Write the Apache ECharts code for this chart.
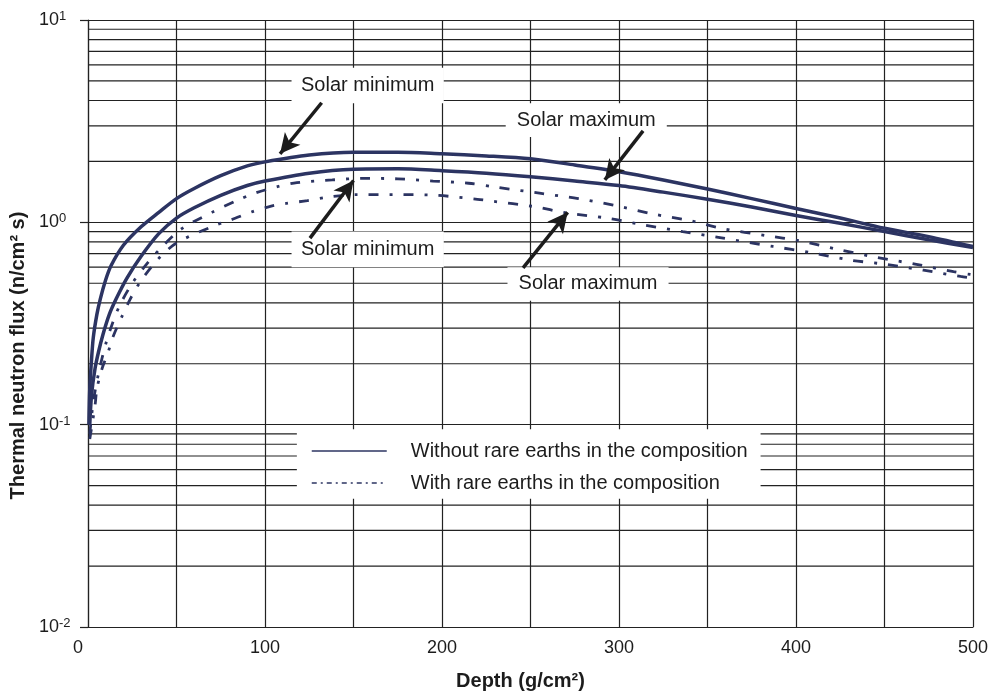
<!DOCTYPE html>
<html><head><meta charset="utf-8">
<script src="https://cdn.jsdelivr.net/npm/echarts@6/dist/echarts.min.js"></script>
<style>html,body{margin:0;padding:0;background:#fff}#c{width:992px;height:696px}</style>
</head><body><div id="c"></div>
<script>
// ---- data ----
const depthA = [0.5, 1, 2, 3, 5, 7, 10, 13, 20, 30, 40, 50, 60, 75, 90, 100, 125, 150, 175, 200, 225, 250, 275, 300, 325, 350, 375, 400, 425, 450, 475, 500];
const fluxA  = [0.1, 0.15, 0.21, 0.27, 0.35, 0.42, 0.52, 0.61, 0.77, 0.95, 1.12, 1.31, 1.47, 1.7, 1.9, 1.99, 2.15, 2.22, 2.22, 2.18, 2.13, 2.06, 1.92, 1.78, 1.62, 1.46, 1.31, 1.17, 1.05, 0.935, 0.85, 0.76];

const depthB = [1, 2, 4, 6, 8.5, 12, 16, 22, 30, 40, 50, 60, 75, 90, 100, 125, 150, 175, 200, 225, 250, 275, 300, 325, 350, 375, 400, 425, 450, 475, 500];
const fluxB  = [0.1, 0.14, 0.19, 0.23, 0.28, 0.35, 0.42, 0.53, 0.68, 0.88, 1.05, 1.18, 1.36, 1.52, 1.6, 1.75, 1.83, 1.84, 1.8, 1.75, 1.68, 1.6, 1.52, 1.41, 1.3, 1.19, 1.08, 0.99, 0.9, 0.82, 0.75];

const depthC = [1, 3, 6, 10, 14, 18, 25, 33, 42, 53, 70, 84, 95, 107, 118, 138, 155, 175, 195, 215, 231, 256, 277, 298, 319, 340, 359, 383, 402, 425, 446, 468, 489, 500];
const fluxC  = [0.09, 0.13, 0.18, 0.25, 0.32, 0.39, 0.5, 0.62, 0.76, 0.93, 1.12, 1.28, 1.4, 1.5, 1.57, 1.62, 1.65, 1.64, 1.6, 1.56, 1.49, 1.39, 1.31, 1.21, 1.1, 1.02, 0.93, 0.86, 0.81, 0.73, 0.67, 0.62, 0.57, 0.55];

const depthD = [1, 4, 5, 8, 11.5, 14, 19, 24, 29, 39, 50, 71, 81, 93, 103, 112, 124, 135, 152, 178, 197, 220, 229, 251, 271, 293, 314, 336, 357, 387, 408, 431, 451, 472, 493, 500];
const fluxD  = [0.085, 0.125, 0.15, 0.19, 0.23, 0.27, 0.34, 0.42, 0.5, 0.65, 0.79, 0.96, 1.03, 1.13, 1.2, 1.24, 1.28, 1.33, 1.37, 1.37, 1.36, 1.3, 1.27, 1.2, 1.11, 1.05, 0.97, 0.9, 0.84, 0.76, 0.71, 0.65, 0.62, 0.58, 0.54, 0.53];

const seriesNames = ['Without rare earths in the composition', 'With rare earths in the composition'];
const xTickValues = [0, 100, 200, 300, 400, 500];
const xTickLabels = ['0', '100', '200', '300', '400', '500'];
const yTickValues = [0.01, 0.1, 1, 10];
const yTickExponents = ['-2', '-1', '0', '1'];
const minorGridValues = [0.02, 0.03, 0.04, 0.05, 0.06, 0.07, 0.08, 0.09,
                         0.2, 0.3, 0.4, 0.5, 0.6, 0.7, 0.8, 0.9,
                         2, 3, 4, 5, 6, 7, 8, 9];
const xAxisTitle = 'Depth (g/cm²)';
const yAxisTitle = 'Thermal neutron flux (n/cm² s)';

// annotation boxes (data coordinates): label text, depth range, flux range
const boxTexts  = ['Solar minimum', 'Solar maximum', 'Solar minimum', 'Solar maximum', ''];
const boxDepths = [[115, 201], [236, 327], [115, 201], [237, 328], [118, 380]];
const boxFluxes = [[3.88, 5.8], [2.64, 3.88], [0.6, 0.9], [0.41, 0.6], [0.043, 0.095]];
// arrows (data coordinates): from -> to
const arrowFrom = [[132, 3.9], [313.6, 2.83], [125.4, 0.835], [245.8, 0.595]];
const arrowTo   = [[108.5, 2.18], [292, 1.62], [150, 1.61], [271, 1.12]];

// ---- chart ----
const FONT = 'Liberation Sans, Arial, Helvetica, sans-serif';
const INK = '#1c1c1c';
const NAVY = '#2c3462';
const GRIDC = '#222222';
const zip = (xs, ys) => xs.map((x, i) => [x, ys[i]]);

const chart = echarts.init(document.getElementById('c'), null, {renderer: 'canvas'});
const option = {
  animation: false,
  backgroundColor: '#ffffff',
  textStyle: {fontFamily: FONT, color: INK},
  grid: {left: 88, right: 19, top: 20, bottom: 64},
  legend: {
    orient: 'vertical', left: 306, top: 436,
    itemWidth: 75, itemHeight: 14, itemGap: 12,
    selectedMode: false,
    textStyle: {fontFamily: FONT, fontSize: 20, color: INK, padding: [0, 0, 0, 19]},
    data: [
      {name: seriesNames[0], lineStyle: {width: 1.5}, itemStyle: {opacity: 0}},
      {name: seriesNames[1], lineStyle: {width: 1.5, type: [5, 4, 2, 4]}, itemStyle: {opacity: 0}}
    ]
  },
  xAxis: {
    type: 'value', min: 0, max: 500, interval: 50,
    axisLine: {show: true, lineStyle: {color: GRIDC, width: 1.2}},
    axisTick: {show: false},
    splitLine: {show: true, lineStyle: {color: GRIDC, width: 1.2}},
    axisLabel: {
      margin: 12, fontSize: 18, color: INK, fontFamily: FONT, alignMinLabel: 'right',
      formatter: v => {
        const i = xTickValues.indexOf(v);
        if (i < 0) return '';
        return i === 0 ? '{z|' + xTickLabels[i] + '}' : xTickLabels[i];
      },
      rich: {z: {fontSize: 18, color: INK, fontFamily: FONT, padding: [0, 5, 0, 0]}}
    },
    name: xAxisTitle, nameLocation: 'middle', nameGap: 44,
    nameTextStyle: {fontSize: 20, fontWeight: 'bold', color: INK, fontFamily: FONT, padding: [0, 20, 0, 0]}
  },
  yAxis: {
    type: 'log', logBase: 10, min: 0.01, max: 10,
    axisLine: {show: true, lineStyle: {color: GRIDC, width: 1.2}},
    axisTick: {show: true, length: 8, lineStyle: {color: GRIDC, width: 1.2}},
    splitLine: {show: true, lineStyle: {color: GRIDC, width: 1.2}},
    minorTick: {show: false}, minorSplitLine: {show: false},
    axisLabel: {
      align: 'left', margin: 49, color: INK, fontFamily: FONT,
      formatter: v => {
        let i = yTickValues.findIndex(t => Math.abs(Math.log10(t) - Math.log10(v)) < 1e-6);
        return i >= 0 ? '{b|10}{s|' + yTickExponents[i] + '}' : '';
      },
      rich: {
        b: {fontSize: 18, lineHeight: 20, verticalAlign: 'middle', fontFamily: FONT, color: INK},
        s: {fontSize: 13, lineHeight: 13, verticalAlign: 'top', fontFamily: FONT, color: INK}
      }
    },
    name: yAxisTitle, nameLocation: 'middle', nameGap: 60,
    nameTextStyle: {fontSize: 20, fontWeight: 'bold', color: INK, fontFamily: FONT, padding: [0, 64, 0, 0]}
  },
  series: [
    {
      type: 'custom', name: 'minorGrid', z: 1, silent: true, clip: false,
      data: minorGridValues.map(v => [0, v]), encode: {x: 0, y: 1},
      renderItem: (p, api) => {
        const v = api.value(1);
        const a = api.coord([0, v]);
        const b = api.coord([500, v]);
        return {type: 'line', shape: {x1: a[0], y1: a[1], x2: b[0], y2: b[1]},
                style: {stroke: GRIDC, lineWidth: 1.2}};
      }
    },
    {
      type: 'line', name: seriesNames[0], data: zip(depthA, fluxA), z: 3,
      symbol: 'none', smooth: 0.3, silent: true,
      lineStyle: {color: NAVY, width: 3.5}, itemStyle: {color: NAVY},
      markLine: {
        z: 4, silent: true, symbol: ['none', 'arrow'], symbolSize: [15, 20],
        label: {show: false}, emphasis: {disabled: true},
        lineStyle: {color: INK, width: 3.5, type: 'solid'},
        data: arrowFrom.map((f, i) => [{coord: f}, {coord: arrowTo[i]}])
      }
    },
    {
      type: 'line', name: seriesNames[0], data: zip(depthB, fluxB), z: 3,
      symbol: 'none', smooth: 0.3, silent: true,
      lineStyle: {color: NAVY, width: 3.5}, itemStyle: {color: NAVY}
    },
    {
      type: 'line', name: seriesNames[1], data: zip(depthC, fluxC), z: 3,
      symbol: 'none', smooth: 0.3, silent: true,
      lineStyle: {color: NAVY, width: 2.8, type: [10, 11, 3, 11]}, itemStyle: {color: NAVY}
    },
    {
      type: 'line', name: seriesNames[1], data: zip(depthD, fluxD), z: 3,
      symbol: 'none', smooth: 0.3, silent: true,
      lineStyle: {color: NAVY, width: 2.8, type: [10, 11, 3, 11]}, itemStyle: {color: NAVY},
      markArea: {
        z: 2, silent: true,
        itemStyle: {color: '#ffffff', opacity: 1, borderWidth: 0},
        label: {show: true, position: 'inside', fontSize: 20, color: INK, fontFamily: FONT},
        emphasis: {disabled: true},
        data: boxTexts.map((t, i) => [
          {name: t, coord: [boxDepths[i][0], boxFluxes[i][1]]},
          {coord: [boxDepths[i][1], boxFluxes[i][0]]}
        ])
      }
    }
  ]
};
chart.setOption(option);
</script>
</body></html>
